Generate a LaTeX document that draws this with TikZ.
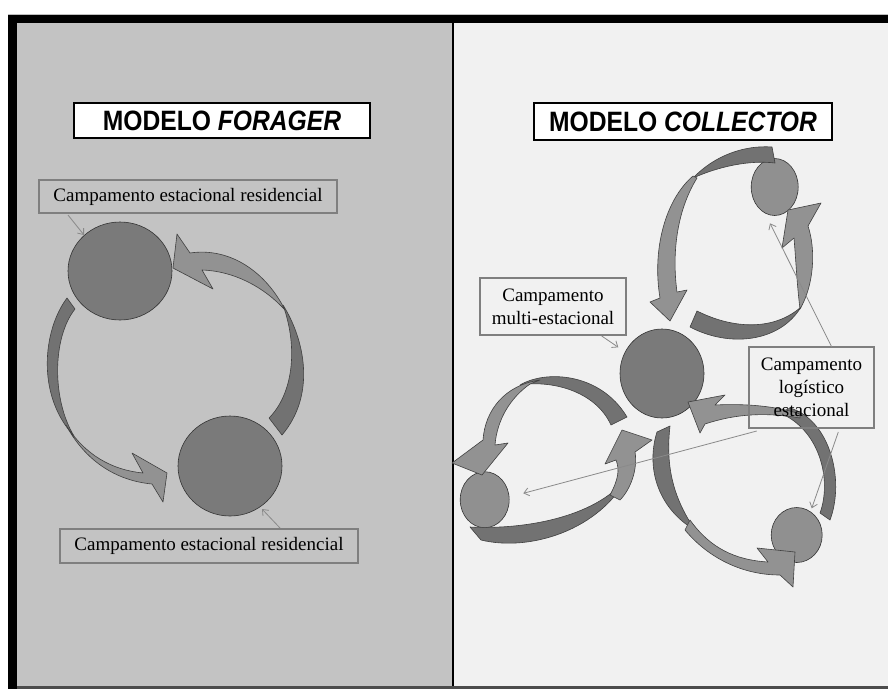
\documentclass[tikz,border=0pt]{standalone}
\usepackage{fontspec}
\setmainfont{Liberation Serif}
\newfontfamily\titlefont[FakeStretch=0.88]{Liberation Sans}
\newfontfamily\labelfont{Liberation Serif}
\usetikzlibrary{arrows.meta,shapes.geometric}
\definecolor{panelL}{HTML}{C3C3C3}
\definecolor{panelR}{HTML}{F1F1F1}
\definecolor{circD}{HTML}{7A7A7A}
\definecolor{circL}{HTML}{909090}
\definecolor{ribL}{HTML}{929292}
\definecolor{ribD}{HTML}{727272}
\definecolor{boxline}{HTML}{7F7F7F}
\definecolor{conn}{HTML}{8A8A8A}
\tikzset{
  titlebox/.style={draw=black, line width=2pt, fill=white, inner sep=0pt, font=\titlefont\fontsize{28}{30}\selectfont\bfseries},
  labelbox/.style={draw=boxline, line width=2pt, inner sep=0pt, align=center, font=\labelfont\fontsize{19}{23}\selectfont},
  bigcirc/.style={ellipse, draw=black!80, line width=0.6pt, fill=circD, inner sep=0pt},
  smallcirc/.style={ellipse, draw=black!80, line width=0.6pt, fill=circL, inner sep=0pt},
  darkrib/.style={fill=ribD, draw=black!75, line width=0.6pt, line join=round},
  lightrib/.style={fill=ribL, draw=black!75, line width=0.6pt, line join=round},
  connector/.style={draw=conn, line width=0.8pt, -{Straight Barb[length=5pt,width=8pt]}}
}
\begin{document}
\begin{tikzpicture}[x=1pt,y=-1pt]
\useasboundingbox (0,0) rectangle (888,689);
% background and frame
\fill[white] (0,0) rectangle (888,689);
\fill[panelL] (17,23) rectangle (453,686);
\fill[panelR] (453,23) rectangle (888,686);
\fill[black] (8,15) rectangle (888,23);
\fill[black] (8,15) rectangle (17,689);
\fill[black!70] (17,686) rectangle (888,689);
\draw[black!25, line width=0.8pt] (8,14.5) -- (888,14.5);
\draw[black, line width=1.5pt] (453,23) -- (453,686);

% titles
\node[titlebox, minimum width=296pt, minimum height=35pt] (tF) at (222,120.5) {MODELO \itshape FORAGER};
\node[titlebox, minimum width=298pt, minimum height=37pt] (tC) at (683,121.5) {MODELO \itshape COLLECTOR};

% ---------- left panel circles ----------
\node[bigcirc, minimum width=104pt, minimum height=98pt] (c1) at (120,271) {};
\node[bigcirc, minimum width=104pt, minimum height=100pt] (c2) at (230,466) {};

% arrow A (right side, bottom -> top)
\path[darkrib] (283,305) .. controls (305,340) and (316,395) .. (282,435) -- (269,418) .. controls (292,395) and (299,350) .. (283,305) -- cycle;
\path[lightrib] (190,253) .. controls (230,247) and (266,272) .. (285,310)
  .. controls (264,287) and (234,271) .. (202,270) -- (213,289) -- (173,268) -- (177,234) -- cycle;
% arrow B (left side, top -> bottom)
\path[darkrib] (67,298) .. controls (43,330) and (36,395) .. (74,436) .. controls (52,400) and (52,338) .. (75,309) -- cycle;
\path[lightrib] (143,473) .. controls (112,470) and (85,455) .. (66,425)
  .. controls (82,455) and (110,480) .. (152,484) -- (163,502) -- (167,473) -- (132,453) -- cycle;

% ---------- right panel circles ----------
\node[bigcirc, minimum width=84pt, minimum height=89pt] (cc) at (662,373.5) {};
\node[smallcirc, minimum width=47pt, minimum height=57pt] (ct) at (774.7,187) {};
\node[smallcirc, minimum width=51pt, minimum height=55pt] (cb) at (796.7,535) {};
\node[smallcirc, minimum width=49pt, minimum height=56pt] (cl) at (484.7,499.7) {};

% arrow T1 (top circle -> centre)
\path[darkrib] (772,147) .. controls (745,145) and (715,155) .. (693,178) .. controls (720,166) and (750,160) .. (775,163) -- cycle;
\path[lightrib] (693,176) .. controls (665,200) and (652,250) .. (660,298) -- (650,302) -- (670,321) -- (687,290) -- (677,292) .. controls (672,255) and (676,212) .. (697,178) -- cycle;
% arrow T2 (centre -> top circle)
\path[darkrib] (690,327) .. controls (730,348) and (780,342) .. (801,307) .. controls (775,330) and (735,330) .. (697,311) -- cycle;
\path[lightrib] (800,309) .. controls (814,285) and (816,250) .. (808,226) -- (821,203) -- (788,210) -- (782,248) -- (794,238) .. controls (796,262) and (797,285) .. (800,309) -- cycle;
% arrow L1 (centre -> left circle)
\path[darkrib] (627,417) .. controls (600,372) and (545,370) .. (520,385) .. controls (550,380) and (595,390) .. (611,425) -- cycle;
\path[lightrib] (540,380) .. controls (505,385) and (485,410) .. (483,440) -- (452,463) -- (482,475) -- (508,443) -- (495,445) .. controls (497,420) and (510,398) .. (530,384) -- cycle;
% arrow L2 (left circle -> centre)
\path[darkrib] (470,527) -- (481,540) .. controls (530,552) and (600,530) .. (628,476) .. controls (600,515) and (530,530) .. (470,527) -- cycle;
\path[lightrib] (610,495) .. controls (618,480) and (620,470) .. (616,460) -- (605,464) -- (622,430) -- (652,440) -- (635,452) .. controls (638,470) and (630,490) .. (620,500) -- cycle;
% arrow R1 (bottom circle -> centre)
\path[darkrib] (790,408) .. controls (830,420) and (845,480) .. (830,520) -- (820,513) .. controls (832,480) and (820,430) .. (780,413) -- cycle;
\path[lightrib] (800,414) .. controls (770,404) and (735,404) .. (715,405) -- (725,395) -- (688,402) -- (700,433) -- (705,424) .. controls (735,414) and (765,412) .. (800,418) -- cycle;
% arrow R2 (centre -> bottom circle)
\path[darkrib] (657,432) .. controls (645,470) and (660,510) .. (695,530) .. controls (675,500) and (665,470) .. (670,426) -- cycle;
\path[lightrib] (690,520) .. controls (710,548) and (735,560) .. (768,562) -- (757,548) -- (795,552) -- (793,587) -- (780,575) .. controls (745,575) and (710,560) .. (685,530) -- cycle;

% ---------- labels ----------
\node[labelbox, minimum width=298pt, minimum height=33pt] (lt) at (188,196.5) {Campamento estacional residencial};
\node[labelbox, minimum width=298pt, minimum height=34pt] (lb) at (209,546) {Campamento estacional residencial};
\node[labelbox, minimum width=146pt, minimum height=57pt] (lm) at (553,306.5) {Campamento\\multi-estacional};
\node[labelbox, minimum width=125pt, minimum height=81pt] (lg) at (811.5,387.5) {Campamento\\log\'{\i}stico\\estacional};

% connectors
\coordinate (lt1) at (68,215);   \coordinate (lt2) at (84,235);
\coordinate (lb1) at (280,528);  \coordinate (lb2) at (262,509);
\coordinate (lm1) at (601.7,336); \coordinate (lm2) at (618.3,347.3);
\coordinate (lg1) at (831.7,347); \coordinate (lg2) at (770,223.3);
\coordinate (lg3) at (756.7,431); \coordinate (lg4) at (523.3,493.3);
\coordinate (lg5) at (838.3,432); \coordinate (lg6) at (811.7,508.3);
\draw[connector] (lt1) -- (lt2);
\draw[connector] (lb1) -- (lb2);
\draw[connector] (lm1) -- (lm2);
\draw[connector] (lg1) -- (lg2);
\draw[connector] (lg3) -- (lg4);
\draw[connector] (lg5) -- (lg6);
\end{tikzpicture}
\end{document}
